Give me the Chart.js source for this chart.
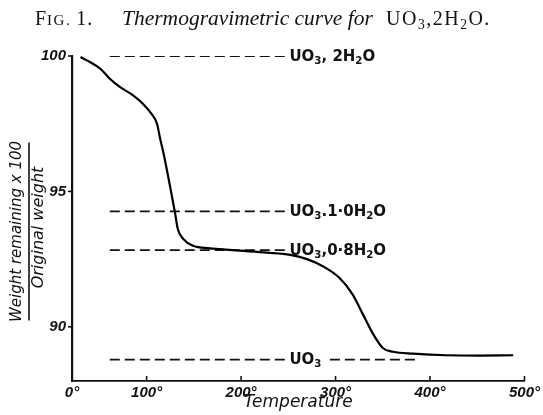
<!DOCTYPE html>
<html><head><meta charset="utf-8">
<script src="https://cdn.jsdelivr.net/npm/chart.js@4/dist/chart.umd.min.js"></script>
<style>html,body{margin:0;padding:0;background:#fff}#wrap{position:relative;width:543px;height:415px}</style>
</head><body><div id="wrap"><canvas id="c" width="543" height="415"></canvas></div>
<script>
// ---- data ----
const TEMPERATURE = [30, 40, 51, 61, 72, 86, 96, 105, 111, 114, 118, 125, 130, 133, 139, 149, 167, 178, 191, 227, 252, 269, 287, 304, 318, 329, 340, 350, 361, 382, 417, 452, 488];
const WEIGHT      = [99.96, 99.78, 99.53, 99.16, 98.85, 98.54, 98.24, 97.87, 97.50, 97.00, 96.39, 95.15, 94.22, 93.61, 93.24, 92.99, 92.90, 92.87, 92.83, 92.74, 92.66, 92.51, 92.23, 91.81, 91.20, 90.46, 89.72, 89.22, 89.08, 89.01, 88.95, 88.94, 88.95];
const REF_LABELS  = ['UO_3, 2H_2O', 'UO_3.1·0H_2O', 'UO_3,0·8H_2O', 'UO_3'];
const REF_LEVELS  = [100, 94.26, 92.83, 88.79];
const REF_START   = 61;   // temperature where dashed guide lines begin
const REF_END     = 248;  // temperature where dashed guide lines end (label follows)
const REF_TAIL    = [294, 384]; // continuation of the last (UO3) guide line
const X_TICKS     = [0, 100, 200, 300, 400, 500];
const Y_TICKS     = [90, 95, 100];
const X_ORIGIN    = 21;   // axis start on the figure's linear scale (labelled 0°)
const X_MAX = 500, Y_MIN = 88, Y_MAX = 100;
const TITLE_TEXT = 'Thermogravimetric curve for';
const TITLE_FORMULA = 'UO_3,2H_2O.';
const Y_TITLE_TOP = 'Weight remaining x 100';
const Y_TITLE_BOTTOM = 'Original weight';
const X_TITLE = 'Temperature';

const curve = TEMPERATURE.map((t, i) => ({x: t, y: WEIGHT[i]}));
const refSets = REF_LEVELS.map((lv, i) => {
  const pts = [{x: REF_START, y: lv}, {x: REF_END, y: lv}];
  if (i === REF_LEVELS.length - 1) { pts.push({x: (REF_END + REF_TAIL[0]) / 2, y: null}); pts.push({x: REF_TAIL[0], y: lv}, {x: REF_TAIL[1], y: lv}); }
  return {data: pts, borderColor: '#111', borderWidth: 1.8, borderDash: [10, 5], pointRadius: 0, spanGaps: false, fill: false};
});

function drawRich(ctx, str, x, y, size, family, weight, style) {
  let cx = x;
  for (let i = 0; i < str.length; i++) {
    let ch = str[i], sub = false;
    if (ch === '_') { sub = true; i++; ch = str[i]; }
    const s = sub ? size * 0.68 : size;
    ctx.font = `${style || 'normal'} ${weight || 'normal'} ${s}px ${family}`;
    ctx.fillText(ch, cx, sub ? y + size * 0.22 : y);
    cx += ctx.measureText(ch).width;
  }
  return cx;
}

const deco = {
  id: 'deco',
  afterDraw(chart) {
    const ctx = chart.ctx, xs = chart.scales.x, ys = chart.scales.y, a = chart.chartArea;
    ctx.save();
    ctx.fillStyle = '#111'; ctx.strokeStyle = '#111';
    ctx.textBaseline = 'alphabetic'; ctx.textAlign = 'left';
    // title
    let tx = 35;
    ctx.font = '20px "Liberation Serif"'; ctx.fillText('F', tx, 25); tx += ctx.measureText('F').width + 1;
    ctx.font = '15px "Liberation Serif"';
    for (const ch of 'IG.') { ctx.fillText(ch, tx, 25); tx += ctx.measureText(ch).width + 1.5; }
    ctx.font = '20px "Liberation Serif"'; tx += 5; ctx.fillText('1', tx, 25); tx += ctx.measureText('1').width + 1; ctx.fillText('.', tx, 25);
    ctx.font = 'italic 21.5px "Liberation Serif"'; ctx.fillText(TITLE_TEXT, 122, 25);
    ctx.letterSpacing = '1.5px';
    drawRich(ctx, TITLE_FORMULA, 386, 25, 20, '"Liberation Serif"');
    ctx.letterSpacing = '0px';
    // y title (fraction)
    const cy = (a.top + a.bottom) / 2 + 13;
    ctx.save(); ctx.translate(29, cy); ctx.rotate(-Math.PI / 2);
    ctx.textAlign = 'center';
    ctx.font = 'oblique 15px "DejaVu Sans"'; ctx.fillText(Y_TITLE_TOP, 0, -8);
    ctx.font = 'oblique 16px "DejaVu Sans"'; ctx.fillText(Y_TITLE_BOTTOM, 4, 14);
    ctx.lineWidth = 1.6; ctx.beginPath(); ctx.moveTo(-89, 0); ctx.lineTo(89, 0); ctx.stroke();
    ctx.restore();
    // tick marks
    ctx.lineWidth = 1.6;
    X_TICKS.slice(1).forEach(v => { const px = xs.getPixelForValue(v); ctx.beginPath(); ctx.moveTo(px, a.bottom); ctx.lineTo(px, a.bottom - 5); ctx.stroke(); });
    Y_TICKS.forEach(v => { const py = ys.getPixelForValue(v); ctx.beginPath(); ctx.moveTo(a.left - 4, py); ctx.lineTo(a.left, py); ctx.stroke(); });
    // guide labels
    REF_LABELS.forEach((lab, i) => {
      const px = xs.getPixelForValue(REF_END) + 3, py = ys.getPixelForValue(REF_LEVELS[i]);
      drawRich(ctx, lab, px, py + 4.5, 15, '"DejaVu Sans"', 'bold');
    });
    ctx.restore();
  }
};

new Chart(document.getElementById('c'), {
  type: 'line',
  data: { datasets: [
    {data: curve, borderColor: '#000', borderWidth: 2.2, pointRadius: 0, cubicInterpolationMode: 'monotone', fill: false},
    ...refSets
  ]},
  options: {
    responsive: false, animation: false, events: [],
    layout: {padding: {left: 0, top: 56, right: 18, bottom: 0}},
    plugins: {legend: {display: false}, tooltip: {enabled: false}, title: {display: false}},
    scales: {
      x: {
        type: 'linear', min: X_ORIGIN, max: X_MAX,
        afterBuildTicks: s => { s.ticks = X_TICKS.map(v => ({value: v === 0 ? X_ORIGIN : v})); },
        afterFit: s => { s.height = 34; },
        grid: {display: false, drawTicks: false},
        border: {display: true, color: '#111', width: 1.8},
        ticks: {color: '#111', padding: 3, maxRotation: 0, autoSkip: false,
          font: {family: 'Liberation Sans', style: 'italic', weight: 'bold', size: 15},
          callback: v => (v === X_ORIGIN ? 0 : v) + '°'},
        title: {display: true, text: X_TITLE, color: '#111', padding: {top: 0, bottom: 2},
          font: {family: 'DejaVu Sans', style: 'italic', size: 17}}
      },
      y: {
        type: 'linear', min: Y_MIN, max: Y_MAX,
        afterBuildTicks: s => { s.ticks = Y_TICKS.map(v => ({value: v})); },
        afterFit: s => { s.width = 72; },
        grid: {display: false, drawTicks: false},
        border: {display: true, color: '#111', width: 2.2},
        ticks: {color: '#111', padding: 6,
          font: {family: 'Liberation Sans', style: 'italic', weight: 'bold', size: 15}}
      }
    }
  },
  plugins: [deco]
});
</script></body></html>
